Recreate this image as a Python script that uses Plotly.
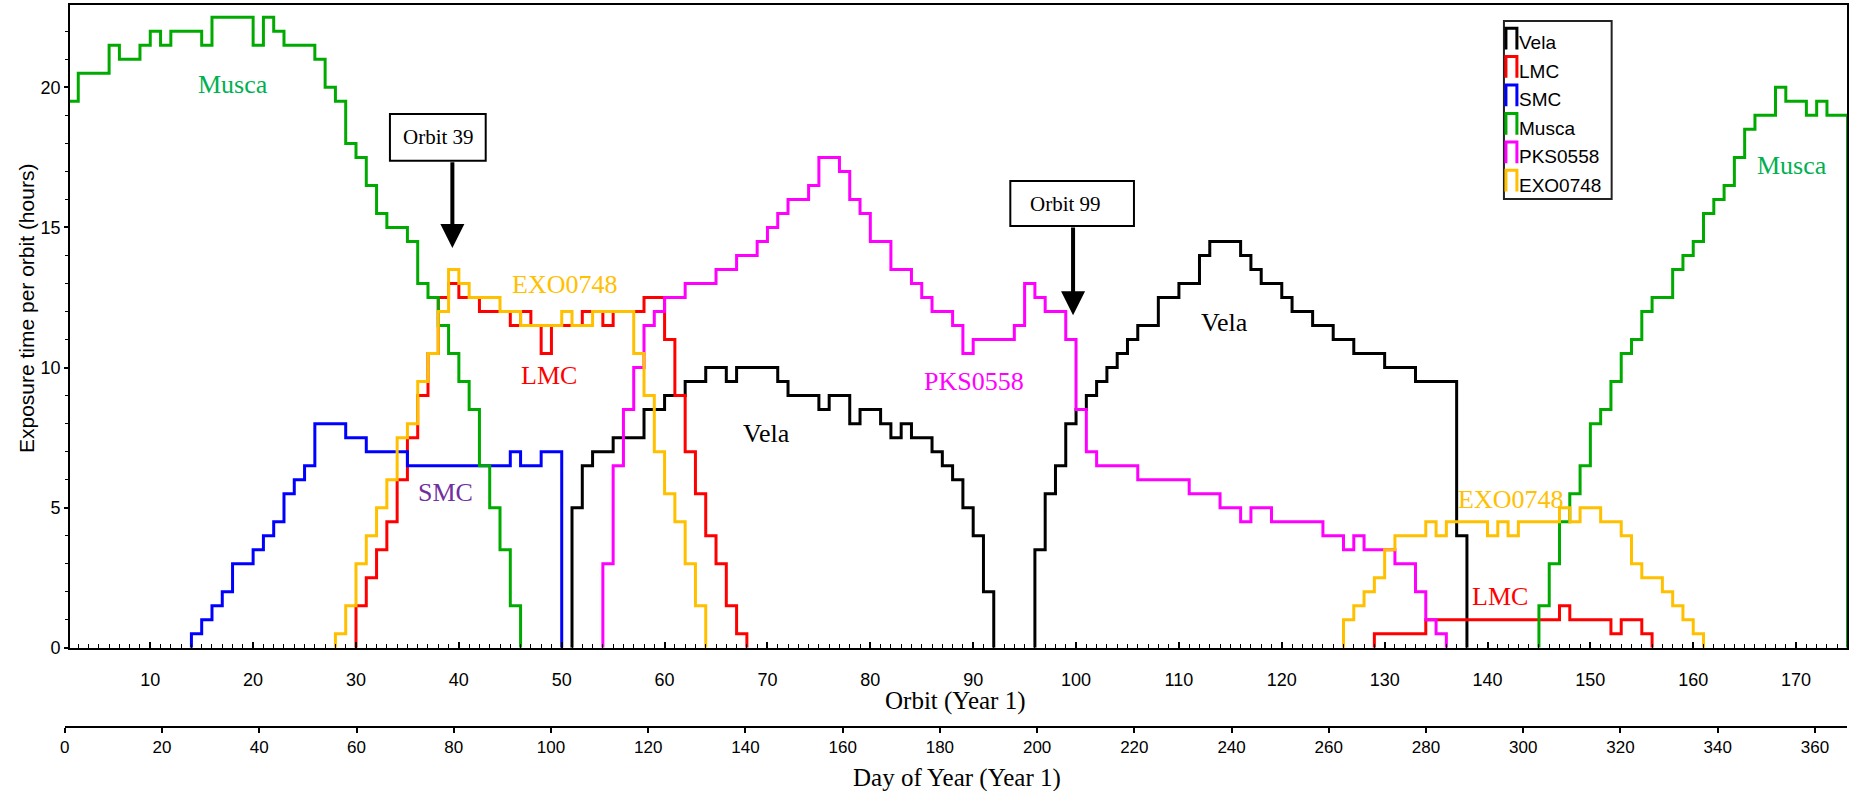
import plotly.graph_objects as go

W, H = 1853, 802

# ---------------- data: exposure hours per orbit (each list starts at the given orbit) -------------
vela_start_1 = 51
vela_hours_1 = [5.0, 6.5, 7.0, 7.0, 7.5, 7.5, 7.5, 8.5, 8.5, 9.0, 9.0, 9.5, 9.5, 10.0, 10.0, 9.5,
                10.0, 10.0, 10.0, 10.0, 9.5, 9.0, 9.0, 9.0, 8.5, 9.0, 9.0, 8.0, 8.5, 8.5, 8.0, 7.5,
                8.0, 7.5, 7.5, 7.0, 6.5, 6.0, 5.0, 4.0, 2.0]
vela_start_2 = 96
vela_hours_2 = [3.5, 5.5, 6.5, 8.0, 8.5, 9.0, 9.5, 10.0, 10.5, 11.0,
                11.5, 11.5, 12.5, 12.5, 13.0, 13.0, 14.0, 14.5, 14.5, 14.5,
                14.0, 13.5, 13.0, 13.0, 12.5, 12.0, 12.0, 11.5, 11.5, 11.0,
                11.0, 10.5, 10.5, 10.5, 10.0, 10.0, 10.0, 9.5, 9.5, 9.5,
                9.5, 4.0]

lmc_start_1 = 30
lmc_hours_1 = [1.5, 2.5, 3.5, 4.5, 6.0, 7.5, 9.0, 10.5, 12.5, 13.0,
               12.5, 12.5, 12.0, 12.0, 12.0, 11.5, 12.0, 11.5, 10.5, 11.5,
               11.5, 11.5, 12.0, 12.0, 11.5, 12.0, 12.0, 12.0, 12.5, 12.5,
               11.0, 9.0, 7.0, 5.5, 4.0, 3.0, 1.5, 0.5]
lmc_start_2 = 129
lmc_hours_2 = [0.5, 0.5, 0.5, 0.5, 0.5,
               1.0, 1.0, 1.0, 1.0, 1.0, 1.0, 1.0, 1.0, 1.0, 1.0, 1.0, 1.0, 1.0,
               1.5, 1.0, 1.0, 1.0, 1.0, 0.5, 1.0, 1.0, 0.5]

smc_start_1 = 14
smc_hours_1 = [0.5, 1.0, 1.5, 2.0, 3.0, 3.0, 3.5, 4.0, 4.5, 5.5, 6.0, 6.5, 8.0, 8.0, 8.0,
               7.5, 7.5, 7.0, 7.0, 7.0, 7.0,
               6.5, 6.5, 6.5, 6.5, 6.5, 6.5, 6.5, 6.5, 6.5, 6.5,
               7.0, 6.5, 6.5, 7.0, 7.0]

musca_start_1 = 2
musca_hours_1 = [19.5, 20.5, 20.5, 20.5, 21.5, 21.0, 21.0, 21.5, 22.0, 21.5,
                 22.0, 22.0, 22.0, 21.5, 22.5, 22.5, 22.5, 22.5, 21.5, 22.5,
                 22.0, 21.5, 21.5, 21.5, 21.0, 20.0, 19.5, 18.0, 17.5, 16.5,
                 15.5, 15.0, 15.0, 14.5, 13.0, 12.5, 11.5, 10.5, 9.5, 8.5,
                 6.5, 5.0, 3.5, 1.5]
musca_start_2 = 145
musca_hours_2 = [1.5, 3.0, 4.5, 5.5, 6.5, 8.0, 8.5, 9.5, 10.5, 11.0,
                 12.0, 12.5, 12.5, 13.5, 14.0, 14.5, 15.5, 16.0, 16.5, 17.5,
                 18.5, 19.0, 19.0, 20.0, 19.5, 19.5, 19.0, 19.5, 19.0, 19.0]

pks_start_1 = 54
pks_hours_1 = [3.0, 6.5, 8.5, 10.0, 11.5, 12.0, 12.5, 12.5, 13.0, 13.0,
               13.0, 13.5, 13.5, 14.0, 14.0, 14.5, 15.0, 15.5, 16.0, 16.0,
               16.5, 17.5, 17.5, 17.0, 16.0, 15.5, 14.5, 14.5, 13.5, 13.5,
               13.0, 12.5, 12.0, 12.0, 11.5, 10.5, 11.0, 11.0, 11.0, 11.0,
               11.5, 13.0, 12.5, 12.0, 12.0, 11.0, 8.5, 7.0, 6.5, 6.5,
               6.5, 6.5, 6.0, 6.0, 6.0, 6.0, 6.0, 5.5, 5.5, 5.5,
               5.0, 5.0, 4.5, 5.0, 5.0, 4.5, 4.5, 4.5, 4.5, 4.5,
               4.0, 4.0, 3.5, 4.0, 3.5, 3.5, 3.5, 3.0, 3.0, 2.0,
               1.0, 0.5]

exo_start_1 = 28
exo_hours_1 = [0.5, 1.5, 3.0, 4.0, 5.0, 6.0, 7.5, 8.0, 9.5, 10.5,
               12.0, 13.5, 13.0, 12.5, 12.5, 12.5, 12.0, 12.0, 11.5, 11.5,
               11.5, 11.5, 12.0, 11.5, 11.5, 12.0, 12.0, 12.0, 12.0, 10.5,
               9.0, 7.0, 5.5, 4.5, 3.0, 1.5]
exo_start_2 = 126
exo_hours_2 = [1.0, 1.5, 2.0, 2.5, 3.5, 4.0, 4.0, 4.0, 4.5, 4.0,
               4.5, 4.5, 4.5, 4.5, 4.0, 4.5, 4.0, 4.5, 4.5, 4.5,
               4.5, 5.0, 4.5, 5.0, 5.0, 4.5, 4.5, 4.0, 3.0, 2.5,
               2.5, 2.0, 1.5, 1.0, 0.5]

series_names = ["Vela", "LMC", "SMC", "Musca", "PKS0558", "EXO0748"]
series_segments = {
    "Vela": [(vela_start_1, vela_hours_1), (vela_start_2, vela_hours_2)],
    "LMC": [(lmc_start_1, lmc_hours_1), (lmc_start_2, lmc_hours_2)],
    "SMC": [(smc_start_1, smc_hours_1)],
    "Musca": [(musca_start_1, musca_hours_1), (musca_start_2, musca_hours_2)],
    "PKS0558": [(pks_start_1, pks_hours_1)],
    "EXO0748": [(exo_start_1, exo_hours_1), (exo_start_2, exo_hours_2)],
}
line_colors = {"Vela": "#000000", "LMC": "#FF0000", "SMC": "#0000FF",
               "Musca": "#00AA00", "PKS0558": "#FF00FF", "EXO0748": "#FFC000"}

# in-plot labels
label_texts = ["Musca", "EXO0748", "LMC", "SMC", "Vela", "PKS0558", "Vela", "EXO0748", "LMC", "Musca"]
label_orbits = [18.0, 50.3, 48.8, 38.7, 69.9, 90.1, 114.4, 142.2, 141.2, 169.6]
label_hours = [20.1, 12.98, 9.7, 5.55, 7.66, 9.49, 11.6, 5.29, 1.83, 17.2]
label_colors = ["#00B050", "#FFC000", "#FF0000", "#7030A0", "#000000", "#FF00FF",
                "#000000", "#FFC000", "#FF0000", "#00B050"]

orbit_ticks = list(range(10, 171, 10))
day_ticks = list(range(0, 361, 20))

SERIF = "Liberation Serif, Times New Roman, serif"
SANS = "Liberation Sans, Arial, sans-serif"


def px(xp):
    return xp / W


def py(yp):
    return 1 - yp / H


def steps(segments):
    xs, ys = [], []
    for start, vals in segments:
        if xs:
            xs.append(None)
            ys.append(None)
        xs += [start] + list(range(start, start + len(vals) + 1))
        ys += [0] + list(vals) + [0]
    return xs, ys


fig = go.Figure()
for name in series_names:
    xs, ys = steps(series_segments[name])
    fig.add_trace(go.Scatter(x=xs, y=ys, mode="lines", name=name,
                             line=dict(color=line_colors[name], width=3, shape="hv"),
                             connectgaps=False, showlegend=False, hoverinfo="skip"))

# dummy trace carrying the day-of-year axis
fig.add_trace(go.Scatter(x=[0, 366], y=[-5, -5], xaxis="x2", yaxis="y", mode="lines",
                         line=dict(width=0), showlegend=False, hoverinfo="skip"))

# plot area geometry (pixels)
L, R, T, B = 65, 1847, 5, 656.0

fig.update_layout(
    width=W, height=H, margin=dict(l=0, r=0, t=0, b=0),
    paper_bgcolor="white", plot_bgcolor="rgba(0,0,0,0)", showlegend=False,
    xaxis=dict(domain=[px(L), px(R)], range=[2.18, 174.95], anchor="y",
               tickmode="array", tickvals=orbit_ticks, ticks="inside", ticklen=6,
               tickwidth=1.5, tickcolor="black", ticklabelstandoff=15,
               minor=dict(dtick=1, tick0=0, ticks="inside", ticklen=4, tickwidth=1, tickcolor="black"),
               showline=True, linecolor="black", linewidth=2, mirror=True,
               showgrid=False, zeroline=False, layer="above traces",
               tickfont=dict(family=SANS, size=18, color="black")),
    yaxis=dict(domain=[py(B), py(T)], range=[0, 22.94], anchor="x",
               tickmode="array", tickvals=[0, 5, 10, 15, 20], ticks="outside", ticklen=4,
               tickwidth=1.5, tickcolor="black",
               minor=dict(dtick=1, tick0=0, ticks="outside", ticklen=3, tickwidth=1, tickcolor="black"),
               showline=True, linecolor="black", linewidth=1.5, mirror=True,
               showgrid=False, zeroline=False, layer="above traces",
               tickfont=dict(family=SANS, size=18, color="black")),
    xaxis2=dict(domain=[px(60), px(R)], range=[0, 366.6], anchor="free",
                position=py(735.8), tickmode="array", tickvals=day_ticks,
                ticks="outside", ticklen=5, tickwidth=1.5, tickcolor="black",
                showline=True, linecolor="black", linewidth=2,
                showgrid=False, zeroline=False,
                tickfont=dict(family=SANS, size=17, color="black")),
)

ann = []
for t, xo, yh, c in zip(label_texts, label_orbits, label_hours, label_colors):
    ann.append(dict(x=xo, y=yh, xref="x", yref="y", text=t, showarrow=False,
                    xanchor="center", yanchor="middle",
                    font=dict(family=SERIF, size=26, color=c)))

# axis titles
ann.append(dict(x=px(953), y=py(710), xref="paper", yref="paper", text="Orbit (Year 1)",
                xanchor="center", yanchor="middle",
                showarrow=False, font=dict(family=SERIF, size=25, color="black")))
ann.append(dict(x=px(955), y=py(788), xref="paper", yref="paper", text="Day of Year (Year 1)",
                xanchor="center", yanchor="middle",
                showarrow=False, font=dict(family=SERIF, size=25, color="black")))
ann.append(dict(x=px(21), y=py(312), xref="paper", yref="paper",
                text="Exposure time per orbit (hours)", textangle=-90,
                xanchor="center", yanchor="middle",
                showarrow=False, font=dict(family=SANS, size=21, color="black")))

# orbit call-out boxes and arrows
ann.append(dict(x=38.05, y=18.21, xref="x", yref="y", text="Orbit 39", showarrow=False,
                xanchor="center", yanchor="middle",
                font=dict(family=SERIF, size=21, color="black")))
ann.append(dict(x=99.0, y=15.84, xref="x", yref="y", text="Orbit 99", showarrow=False,
                xanchor="center", yanchor="middle",
                font=dict(family=SERIF, size=21, color="black")))
ann.append(dict(x=39.37, y=14.27, ax=39.37, ay=17.38, xref="x", yref="y", axref="x", ayref="y",
                text="", showarrow=True, arrowhead=2, arrowsize=1.2, arrowwidth=4,
                arrowcolor="black", standoff=0, startstandoff=0))
ann.append(dict(x=99.71, y=11.87, ax=99.71, ay=15.05, xref="x", yref="y", axref="x", ayref="y",
                text="", showarrow=True, arrowhead=2, arrowsize=1.2, arrowwidth=4,
                arrowcolor="black", standoff=0, startstandoff=0))

shapes = [
    dict(type="rect", xref="x", yref="y", x0=33.30, x1=42.61, y0=17.38, y1=19.05,
         line=dict(color="black", width=2), fillcolor="rgba(0,0,0,0)", layer="above"),
    dict(type="rect", xref="x", yref="y", x0=93.61, x1=105.63, y0=15.05, y1=16.66,
         line=dict(color="black", width=2), fillcolor="rgba(0,0,0,0)", layer="above"),
]

# legend (box, step-shaped symbols and names)
shapes.append(dict(type="rect", xref="paper", yref="paper", x0=px(1503), x1=px(1611),
                   y0=py(201.5), y1=py(21.3), line=dict(color="#222222", width=2),
                   fillcolor="white", layer="above"))
for i, name in enumerate(series_names):
    top = 28.5 + i * 28.8
    bot = top + 21.5
    x0, x1 = 1505, 1516
    path = f"M {px(x0)},{py(bot)} L {px(x0)},{py(top)} L {px(x1)},{py(top)} L {px(x1)},{py(bot)}"
    shapes.append(dict(type="path", xref="paper", yref="paper", path=path,
                       line=dict(color=line_colors[name], width=3), layer="above"))
    ann.append(dict(x=px(1516), y=py(top + 15), xref="paper", yref="paper", text=name,
                    xanchor="left", yanchor="middle", showarrow=False,
                    font=dict(family=SANS, size=19, color="black")))

fig.update_layout(annotations=ann, shapes=shapes)
fig.write_html("out.html")
